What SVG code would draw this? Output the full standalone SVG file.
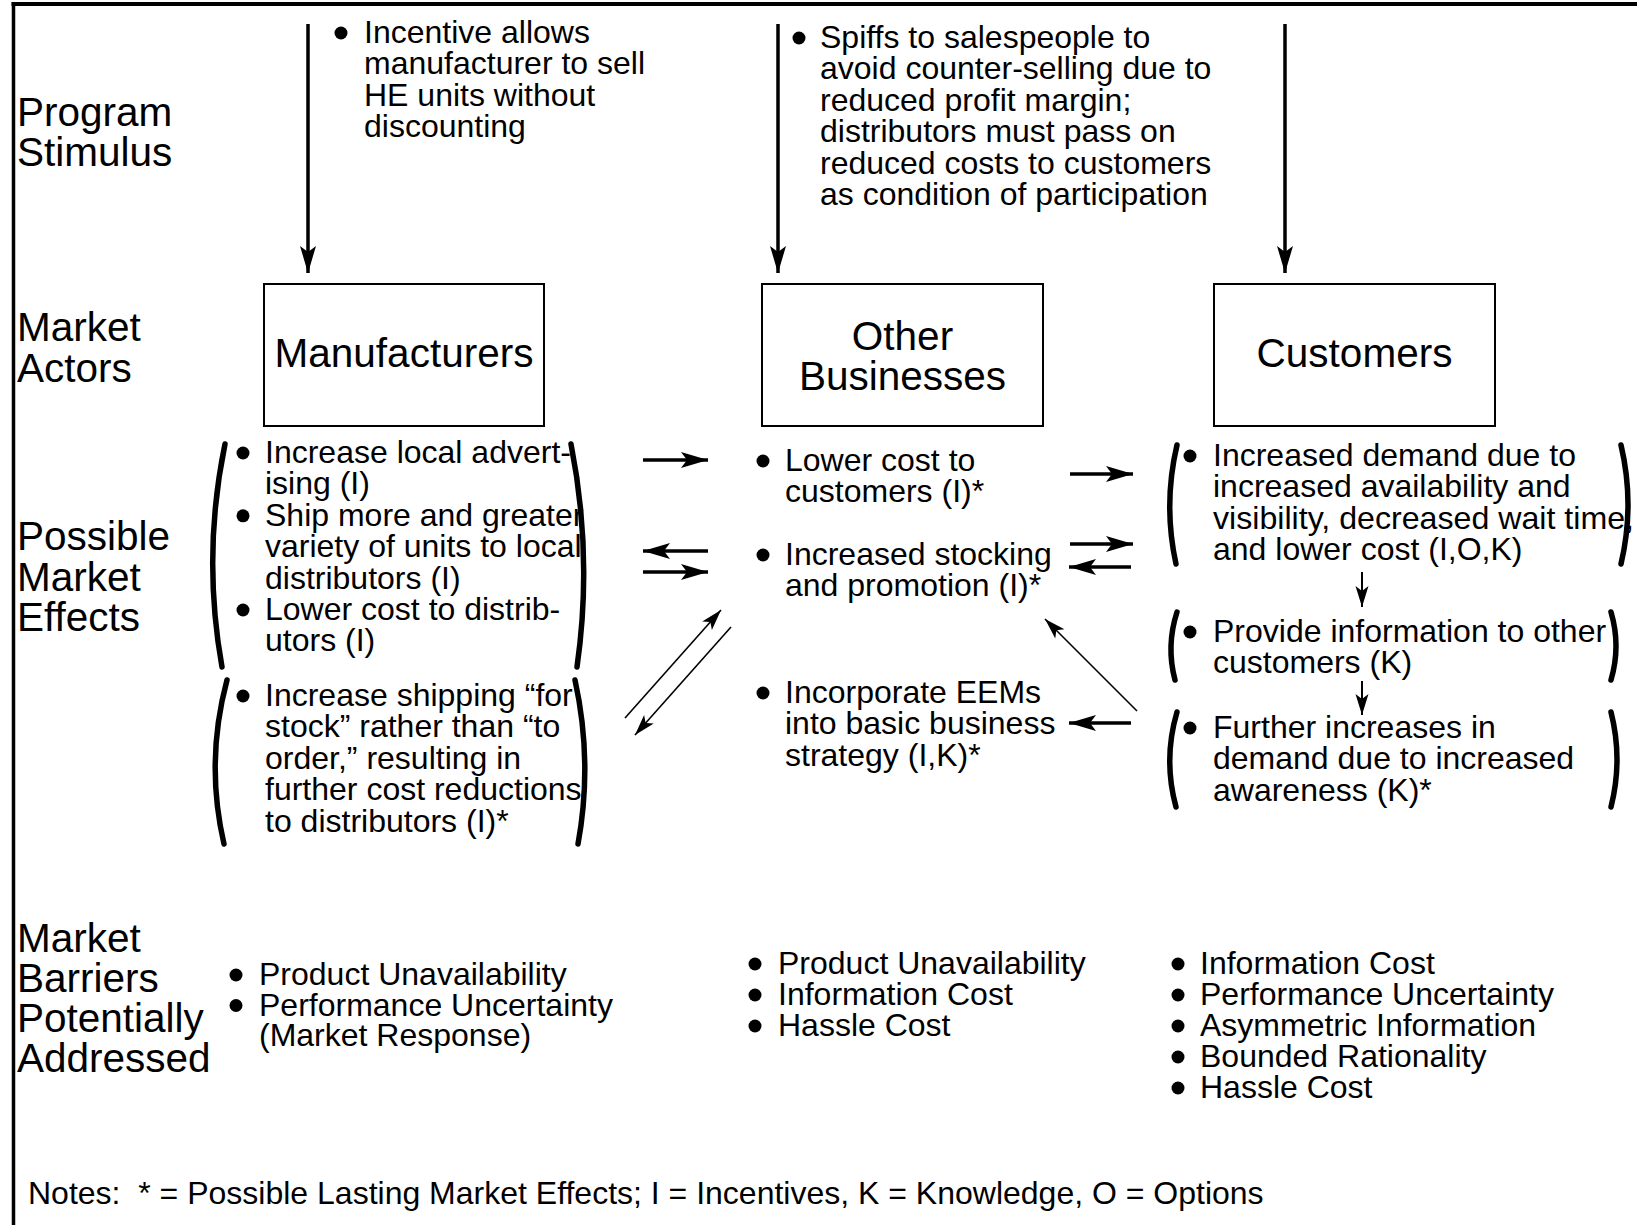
<svg xmlns="http://www.w3.org/2000/svg" width="1637" height="1225" viewBox="0 0 1637 1225">
<style>
  text { font-family: "Liberation Sans", Arial, Helvetica, sans-serif; fill: #000; }
  .t { font-size: 32px; }
  .lbl { font-size: 40.5px; }
  .box { fill: #fff; stroke: #000; stroke-width: 2; }
  .paren { fill: none; stroke: #000; stroke-width: 5.5; stroke-linecap: round; }
  .bul { fill: #000; }
  .thick { stroke: #000; stroke-width: 3.5; fill: none; marker-end: url(#ahBig); }
  .thin { stroke: #000; stroke-width: 1.6; fill: none; marker-end: url(#ahSmall); }
  .med { stroke: #000; stroke-width: 2; fill: none; marker-end: url(#ahSmall); }
</style>
<defs>
  <marker id="ahBig" markerUnits="userSpaceOnUse" markerWidth="28" markerHeight="18" refX="27" refY="9" orient="auto" overflow="visible">
    <path d="M0,1 L27,9 L0,17 L6,9 Z" fill="#000"/>
  </marker>
  <marker id="ahSmall" markerUnits="userSpaceOnUse" markerWidth="22" markerHeight="14" refX="21" refY="7" orient="auto" overflow="visible">
    <path d="M0,0.5 L21,7 L0,13.5 L5,7 Z" fill="#000"/>
  </marker>
</defs>

<rect width="1637" height="1225" fill="#fff"/>

<!-- frame -->
<g id="frame">
  <line x1="11.5" y1="4" x2="1637" y2="4" stroke="#000" stroke-width="4"/>
  <line x1="13.5" y1="2" x2="13.5" y2="1225" stroke="#000" stroke-width="3.5"/>
</g>

<!-- row labels -->
<g id="row-labels" class="lbl">
  <text x="17" y="126">Program</text>
  <text x="17" y="166">Stimulus</text>
  <text x="17" y="341">Market</text>
  <text x="17" y="382">Actors</text>
  <text x="17" y="550">Possible</text>
  <text x="17" y="591">Market</text>
  <text x="17" y="631">Effects</text>
  <text x="17" y="952">Market</text>
  <text x="17" y="992">Barriers</text>
  <text x="17" y="1032">Potentially</text>
  <text x="17" y="1072">Addressed</text>
</g>

<!-- stimulus notes -->
<g id="stimulus-manufacturers" class="t">
  <circle class="bul" cx="341" cy="33" r="6.5"/>
  <text x="364" y="43">Incentive allows</text>
  <text x="364" y="74.4">manufacturer to sell</text>
  <text x="364" y="105.8">HE units without</text>
  <text x="364" y="137.2">discounting</text>
</g>
<g id="stimulus-other" class="t">
  <circle class="bul" cx="799" cy="38" r="6.5"/>
  <text x="820" y="48">Spiffs to salespeople to</text>
  <text x="820" y="79.4">avoid counter-selling due to</text>
  <text x="820" y="110.8">reduced profit margin;</text>
  <text x="820" y="142.2">distributors must pass on</text>
  <text x="820" y="173.6">reduced costs to customers</text>
  <text x="820" y="205">as condition of participation</text>
</g>

<!-- actor nodes -->
<g id="node-manufacturers">
  <rect class="box" x="264" y="284" width="280" height="142"/>
  <text class="lbl" x="404" y="367" text-anchor="middle">Manufacturers</text>
</g>
<g id="node-other-businesses">
  <rect class="box" x="762" y="284" width="281" height="142"/>
  <text class="lbl" x="902.5" y="350" text-anchor="middle">Other</text>
  <text class="lbl" x="902.5" y="390" text-anchor="middle">Businesses</text>
</g>
<g id="node-customers">
  <rect class="box" x="1214" y="284" width="281" height="142"/>
  <text class="lbl" x="1354.5" y="367" text-anchor="middle">Customers</text>
</g>

<!-- manufacturer effects -->
<g id="effects-manufacturers-1" class="t">
  <path class="paren" d="M225,444 Q202,555.5 222,667"/>
  <path class="paren" d="M571,444 Q593,555.5 577,667"/>
  <circle class="bul" cx="243" cy="453" r="6.5"/>
  <text x="265" y="463">Increase local advert-</text>
  <text x="265" y="494.4">ising (I)</text>
  <circle class="bul" cx="243" cy="515.8" r="6.5"/>
  <text x="265" y="525.8">Ship more and greater</text>
  <text x="265" y="557.2">variety of units to local</text>
  <text x="265" y="588.6">distributors (I)</text>
  <circle class="bul" cx="243" cy="610" r="6.5"/>
  <text x="265" y="620">Lower cost to distrib-</text>
  <text x="265" y="651.4">utors (I)</text>
</g>
<g id="effects-manufacturers-2" class="t">
  <path class="paren" d="M227,680 Q205,762 224,844"/>
  <path class="paren" d="M575,680 Q593,762 578,844"/>
  <circle class="bul" cx="243" cy="696" r="6.5"/>
  <text x="265" y="706">Increase shipping “for</text>
  <text x="265" y="737.4">stock” rather than “to</text>
  <text x="265" y="768.8">order,” resulting in</text>
  <text x="265" y="800.2">further cost reductions</text>
  <text x="265" y="831.6">to distributors (I)*</text>
</g>

<!-- other businesses effects -->
<g id="effects-other-1" class="t">
  <circle class="bul" cx="763" cy="461" r="6.5"/>
  <text x="785" y="471">Lower cost to</text>
  <text x="785" y="502.4">customers (I)*</text>
</g>
<g id="effects-other-2" class="t">
  <circle class="bul" cx="763" cy="555" r="6.5"/>
  <text x="785" y="565">Increased stocking</text>
  <text x="785" y="596.4">and promotion (I)*</text>
</g>
<g id="effects-other-3" class="t">
  <circle class="bul" cx="763" cy="693" r="6.5"/>
  <text x="785" y="703">Incorporate EEMs</text>
  <text x="785" y="734.4">into basic business</text>
  <text x="785" y="765.8">strategy (I,K)*</text>
</g>

<!-- customer effects -->
<g id="effects-customers-1" class="t">
  <path class="paren" d="M1177,445 Q1163,504.5 1176,564"/>
  <path class="paren" d="M1621,445 Q1635,504.5 1621,564"/>
  <circle class="bul" cx="1190" cy="456" r="6.5"/>
  <text x="1213" y="466">Increased demand due to</text>
  <text x="1213" y="497.4">increased availability and</text>
  <text x="1213" y="528.8" textLength="421" lengthAdjust="spacingAndGlyphs">visibility, decreased wait time,</text>
  <text x="1213" y="560.2">and lower cost (I,O,K)</text>
</g>
<g id="effects-customers-2" class="t">
  <path class="paren" d="M1177,612 Q1166,646 1175,680"/>
  <path class="paren" d="M1611,612 Q1621,646 1611,680"/>
  <circle class="bul" cx="1190" cy="632" r="6.5"/>
  <text x="1213" y="642">Provide information to other</text>
  <text x="1213" y="673.4">customers (K)</text>
</g>
<g id="effects-customers-3" class="t">
  <path class="paren" d="M1177,712 Q1163,759.5 1176,807"/>
  <path class="paren" d="M1611,712 Q1623,759.5 1611,807"/>
  <circle class="bul" cx="1190" cy="728" r="6.5"/>
  <text x="1213" y="738">Further increases in</text>
  <text x="1213" y="769.4">demand due to increased</text>
  <text x="1213" y="800.8">awareness (K)*</text>
</g>

<!-- barriers -->
<g id="barriers-manufacturers" class="t">
  <circle class="bul" cx="236" cy="975" r="6.5"/>
  <text x="259" y="985">Product Unavailability</text>
  <circle class="bul" cx="236" cy="1005.5" r="6.5"/>
  <text x="259" y="1015.5">Performance Uncertainty</text>
  <text x="259" y="1046">(Market Response)</text>
</g>
<g id="barriers-other" class="t">
  <circle class="bul" cx="755" cy="964" r="6.5"/>
  <text x="778" y="974">Product Unavailability</text>
  <circle class="bul" cx="755" cy="995" r="6.5"/>
  <text x="778" y="1005">Information Cost</text>
  <circle class="bul" cx="755" cy="1026" r="6.5"/>
  <text x="778" y="1036">Hassle Cost</text>
</g>
<g id="barriers-customers" class="t">
  <circle class="bul" cx="1178" cy="964" r="6.5"/>
  <text x="1200" y="974">Information Cost</text>
  <circle class="bul" cx="1178" cy="995" r="6.5"/>
  <text x="1200" y="1005">Performance Uncertainty</text>
  <circle class="bul" cx="1178" cy="1026" r="6.5"/>
  <text x="1200" y="1036">Asymmetric Information</text>
  <circle class="bul" cx="1178" cy="1057" r="6.5"/>
  <text x="1200" y="1067">Bounded Rationality</text>
  <circle class="bul" cx="1178" cy="1088" r="6.5"/>
  <text x="1200" y="1098">Hassle Cost</text>
</g>

<g id="notes">
  <text class="t" x="28" y="1204">Notes:&#160; * = Possible Lasting Market Effects; I = Incentives, K = Knowledge, O = Options</text>
</g>

<!-- connectors -->
<g id="connectors">
  <line class="thick" x1="308" y1="24" x2="308" y2="273"/>
  <line class="thick" x1="778" y1="24" x2="778" y2="273"/>
  <line class="thick" x1="1285" y1="24" x2="1285" y2="273"/>

  <line class="thick" x1="643" y1="460" x2="708" y2="460"/>
  <line class="thick" x1="708" y1="551" x2="643" y2="551"/>
  <line class="thick" x1="643" y1="572" x2="708" y2="572"/>

  <line class="thin" x1="625" y1="718" x2="721" y2="610"/>
  <line class="thin" x1="731" y1="627" x2="635" y2="735"/>

  <line class="thick" x1="1070" y1="474" x2="1133" y2="474"/>
  <line class="thick" x1="1070" y1="544" x2="1133" y2="544"/>
  <line class="thick" x1="1131" y1="567" x2="1069" y2="567"/>
  <line class="thick" x1="1131" y1="723" x2="1069" y2="723"/>
  <line class="thin" x1="1137" y1="711" x2="1045" y2="619"/>

  <line class="med" x1="1362" y1="572" x2="1362" y2="607"/>
  <line class="med" x1="1362" y1="681" x2="1362" y2="715"/>
</g>
</svg>
